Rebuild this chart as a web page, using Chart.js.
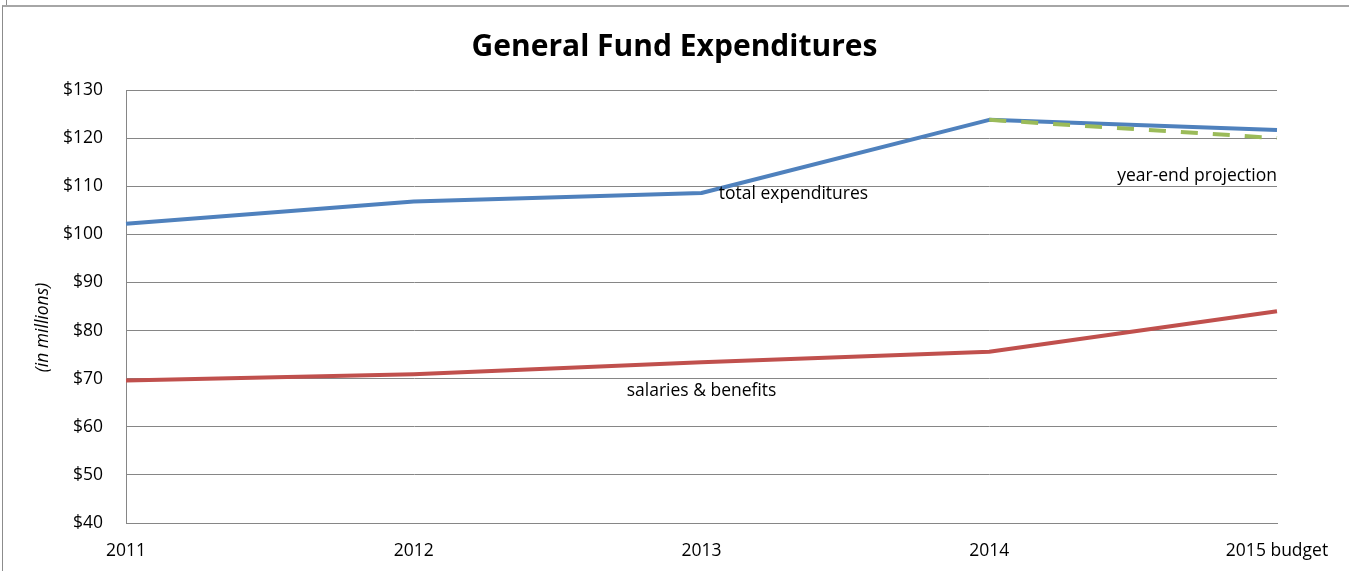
<!DOCTYPE html>
<html>
<head>
<meta charset="utf-8">
<title>General Fund Expenditures</title>
<script src="https://cdn.jsdelivr.net/npm/chart.js@4.4.1/dist/chart.umd.min.js"></script>
<style>
    html, body { margin: 0; padding: 0; background: #fff; overflow: hidden; }
    #wrap { position: relative; width: 1349px; height: 571px; }
    #frame {
        position: absolute; left: 2px; top: 5px; right: 0; bottom: 0;
        border-top: 2px solid #a6a6a6; border-left: 1px solid #8c8c8c;
        pointer-events: none;
    }
    #notch { position: absolute; left: 6px; top: 0; width: 1px; height: 5px; background: #8c8c8c; }
    canvas { position: absolute; left: 0; top: 0; }
</style>
</head>
<body>
<div id="wrap">
    <canvas id="fundChart" width="1349" height="571"></canvas>
    <div id="frame"></div>
    <div id="notch"></div>
</div>
<script>
const years = ['2011', '2012', '2013', '2014', '2015 budget'];
const totalExpenditures = [102.2, 106.8, 108.6, 123.8, 121.7];
const salariesBenefits = [69.6, 70.9, 73.4, 75.6, 84.0];
const yearEndProjection = [null, null, null, 123.8, 120.0];

// in-plot captions, placed in data units (x = category index, y = $ millions)
const captions = [
    { text: 'total expenditures', x: 2.06, y: 108.3, align: 'left' },
    { text: 'year-end projection', x: 4, y: 112.2, align: 'right' },
    { text: 'salaries & benefits', x: 1.74, y: 67.4, align: 'left' }
];

const chartTitle = 'General Fund Expenditures';
const fontFamily = '"Open Sans", "DejaVu Sans", sans-serif';
const textSize = 17.5;
const gridColor = '#868686';

const captionPlugin = {
    id: 'captions',
    afterDatasetsDraw(chart) {
        const { ctx, scales: { x, y }, chartArea } = chart;
        ctx.save();
        ctx.fillStyle = '#000';

        // title centred on the whole canvas, not just the plot
        ctx.font = 'bold 30px ' + fontFamily;
        ctx.textAlign = 'center';
        ctx.textBaseline = 'alphabetic';
        ctx.fillText(chartTitle, chart.width / 2, 56);

        ctx.font = textSize + 'px ' + fontFamily;
        ctx.textBaseline = 'middle';
        captions.forEach(c => {
            ctx.textAlign = c.align;
            ctx.fillText(c.text, x.getPixelForValue(c.x), y.getPixelForValue(c.y));
        });

        // rotated unit label beside the value axis
        ctx.translate(43, (chartArea.top + chartArea.bottom) / 2 + 21);
        ctx.rotate(-Math.PI / 2);
        ctx.textAlign = 'center';
        ctx.font = 'italic ' + textSize + 'px ' + fontFamily;
        ctx.fillText('(in millions)', 0, 0);
        ctx.restore();
    }
};

new Chart(document.getElementById('fundChart'), {
    type: 'line',
    data: {
        labels: years,
        datasets: [
            {
                label: 'year-end projection',
                data: yearEndProjection,
                borderColor: '#9bbb59',
                borderWidth: 4,
                borderDash: [17, 15],
                spanGaps: false,
                order: 0
            },
            {
                label: 'total expenditures',
                data: totalExpenditures,
                borderColor: '#4f81bd',
                borderWidth: 4,
                order: 1
            },
            {
                label: 'salaries & benefits',
                data: salariesBenefits,
                borderColor: '#c0504d',
                borderWidth: 4,
                order: 2
            }
        ]
    },
    options: {
        responsive: false,
        animation: false,
        layout: { padding: { left: 0, right: 72, top: 90, bottom: 0 } },
        elements: {
            point: { radius: 0, hoverRadius: 0 },
            line: { tension: 0, borderCapStyle: 'butt', borderJoinStyle: 'round' }
        },
        scales: {
            x: {
                grid: { display: false, drawTicks: false },
                border: { display: true, color: gridColor, width: 1 },
                ticks: {
                    color: '#000',
                    font: { family: fontFamily, size: textSize },
                    maxRotation: 0,
                    autoSkip: false,
                    padding: 18
                },
                afterFit(scale) { scale.height = 48; }
            },
            y: {
                min: 40,
                max: 130,
                grid: { color: gridColor, lineWidth: 1, drawTicks: false },
                border: { display: true, color: gridColor, width: 1 },
                ticks: {
                    stepSize: 10,
                    color: '#000',
                    font: { family: fontFamily, size: textSize },
                    padding: 23,
                    callback: v => '$' + v
                },
                afterFit(scale) { scale.width = 126; }
            }
        },
        plugins: {
            legend: { display: false },
            tooltip: { enabled: false },
            title: { display: false }
        }
    },
    plugins: [captionPlugin]
});
</script>
</body>
</html>
